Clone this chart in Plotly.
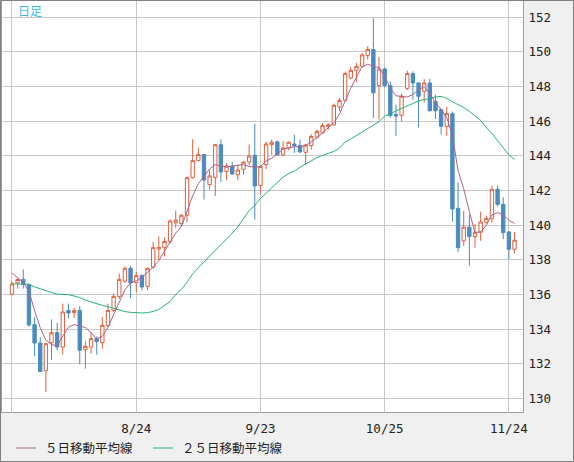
import plotly.graph_objects as go

# ---- data ----
dates = [
    "7/25", "7/26", "7/27", "7/28", "7/29",
    "8/1", "8/2", "8/3", "8/4", "8/5", "8/8", "8/9", "8/10", "8/11", "8/12",
    "8/15", "8/16", "8/17", "8/18", "8/19", "8/22", "8/23", "8/24", "8/25", "8/26",
    "8/29", "8/30", "8/31",
    "9/1", "9/2", "9/5", "9/6", "9/7", "9/8", "9/9", "9/12", "9/13", "9/14", "9/15", "9/16",
    "9/19", "9/20", "9/21", "9/22", "9/23", "9/26", "9/27", "9/28", "9/29", "9/30",
    "10/3", "10/4", "10/5", "10/6", "10/7", "10/10", "10/11", "10/12", "10/13", "10/14",
    "10/17", "10/18", "10/19", "10/20", "10/21", "10/24", "10/25", "10/26", "10/27", "10/28",
    "10/31",
    "11/1", "11/2", "11/3", "11/4", "11/7", "11/8", "11/9", "11/10", "11/11",
    "11/14", "11/15", "11/16", "11/17", "11/18", "11/21", "11/22", "11/23", "11/24", "11/25",
]

opens = [
    136.03, 136.67, 136.88, 136.58, 134.27, 133.21, 131.61, 133.23, 133.81, 132.98,
    135.09, 134.96, 135.09, 132.83, 132.98, 133.46, 133.23, 134.21, 135.09, 135.90,
    136.78, 137.52, 136.70, 137.11, 136.48, 137.59, 138.64, 138.71, 139.07, 140.15,
    140.10, 140.58, 142.75, 143.73, 144.08, 142.35, 142.75, 144.65, 143.11, 143.42,
    142.92, 143.23, 143.65, 144.04, 142.30, 143.50, 144.65, 144.82, 144.07, 144.46,
    144.69, 144.60, 144.21, 144.60, 145.10, 145.33, 145.71, 145.79, 146.83, 147.21,
    148.50, 148.94, 149.17, 149.79, 150.14, 148.06, 149.02, 148.06, 146.40, 146.35,
    147.90, 148.75, 148.21, 147.73, 148.21, 147.15, 146.67, 145.71, 146.44, 140.98,
    139.10, 139.89, 139.35, 139.60, 140.17, 140.40, 142.08, 141.21, 139.62, 138.62,
]
highs = [
    136.77, 136.92, 137.46, 136.65, 134.71, 133.55, 133.20, 134.57, 134.38, 135.48,
    135.48, 135.23, 135.34, 133.31, 133.84, 133.59, 134.71, 135.48, 136.06, 137.21,
    137.63, 137.67, 137.30, 137.17, 137.55, 139.04, 139.36, 139.30, 140.35, 140.85,
    140.65, 142.80, 144.96, 144.48, 144.10, 143.17, 144.70, 144.96, 143.60, 143.65,
    143.50, 143.70, 144.67, 145.87, 143.45, 144.84, 144.94, 144.88, 144.84, 144.84,
    145.23, 144.94, 144.70, 145.25, 145.52, 145.90, 145.90, 147.02, 147.35, 148.87,
    149.13, 149.37, 149.94, 150.33, 151.94, 149.71, 149.10, 148.30, 146.96, 147.60,
    148.92, 148.88, 148.25, 148.44, 148.46, 147.53, 146.70, 146.83, 146.57, 142.48,
    140.83, 140.60, 140.06, 140.79, 140.56, 142.29, 142.29, 141.62, 139.65, 139.62,
]
lows = [
    135.96, 136.35, 136.35, 134.15, 132.46, 131.53, 130.38, 132.23, 132.79, 132.54,
    134.62, 134.65, 131.98, 131.73, 132.60, 132.54, 132.88, 134.13, 135.00, 135.73,
    136.67, 135.80, 136.15, 136.25, 136.25, 137.50, 138.00, 138.20, 138.94, 139.83,
    139.95, 140.19, 142.70, 143.70, 141.48, 142.08, 141.69, 142.50, 142.60, 142.90,
    142.60, 142.92, 143.46, 140.33, 141.81, 143.25, 144.07, 144.00, 143.98, 144.32,
    144.17, 144.17, 143.51, 144.36, 145.00, 145.30, 145.50, 145.75, 146.58, 147.15,
    148.45, 148.25, 149.10, 149.56, 146.20, 146.10, 147.95, 146.20, 145.16, 146.00,
    147.80, 147.25, 145.65, 147.09, 146.57, 146.13, 145.23, 145.17, 140.21, 138.48,
    138.80, 137.67, 138.71, 139.10, 140.10, 140.15, 141.08, 139.20, 138.04, 138.37,
]
closes = [
    136.61, 136.87, 136.58, 134.25, 133.21, 131.57, 133.17, 133.81, 132.98, 135.00,
    134.94, 135.08, 132.79, 133.02, 133.46, 133.29, 134.23, 135.09, 135.90, 136.88,
    137.52, 136.67, 137.10, 136.44, 137.52, 138.71, 138.72, 139.07, 140.25, 140.30,
    140.58, 142.75, 143.73, 144.08, 142.61, 142.85, 144.65, 143.07, 143.42, 142.96,
    143.19, 143.65, 144.00, 142.27, 143.40, 144.69, 144.79, 144.07, 144.46, 144.79,
    144.60, 144.23, 144.63, 145.13, 145.42, 145.75, 145.79, 146.92, 147.21, 148.75,
    148.94, 149.17, 149.83, 150.14, 147.64, 149.02, 148.06, 146.33, 146.30, 147.45,
    148.75, 148.21, 147.44, 148.21, 146.61, 146.61, 145.71, 146.44, 140.94, 138.71,
    139.89, 139.35, 139.60, 140.19, 140.40, 142.08, 141.21, 139.58, 138.62, 139.14,
]
ma5 = [
    137.25, 137.00, 136.70, 136.20, 135.07, 134.10, 133.38, 133.13, 133.03, 133.62,
    134.12, 134.28, 134.18, 134.10, 133.80, 133.45, 133.60, 134.10, 134.85, 135.55,
    136.28, 136.68, 136.80, 137.00, 137.27, 137.60, 137.95, 138.50, 139.05, 139.55,
    139.92, 140.85, 141.70, 142.40, 142.80, 143.25, 143.50, 143.42, 143.36, 143.42,
    143.46, 143.50, 143.40, 143.36, 143.38, 143.72, 143.86, 144.15, 144.40, 144.46,
    144.54, 144.53, 144.60, 144.82, 145.03, 145.33, 145.61, 145.92, 146.42, 147.20,
    147.90, 148.55, 149.15, 149.30, 149.17, 149.10, 148.62, 147.90, 147.47, 147.44,
    147.40, 147.55, 147.83, 148.00, 147.60, 147.05, 146.70, 146.20, 145.20, 143.15,
    142.10, 140.80, 139.58, 139.63, 140.00, 140.60, 140.73, 140.60, 140.30, 140.10,
]
ma25 = [
    136.63, 136.62, 136.61, 136.59, 136.45, 136.33, 136.22, 136.12, 136.03, 136.00,
    136.00, 135.92, 135.83, 135.68, 135.58, 135.46, 135.38, 135.31, 135.20, 135.10,
    135.02, 134.98, 134.94, 134.94, 134.96, 135.03, 135.15, 135.35, 135.60, 136.02,
    136.30, 136.72, 137.20, 137.55, 137.88, 138.20, 138.50, 138.85, 139.20, 139.55,
    139.92, 140.38, 140.85, 141.15, 141.55, 141.85, 142.15, 142.48, 142.78, 142.98,
    143.12, 143.35, 143.55, 143.73, 143.90, 144.03, 144.15, 144.26, 144.46, 144.80,
    144.98, 145.18, 145.38, 145.56, 145.75, 145.98, 146.30, 146.42, 146.60, 146.73,
    146.86, 147.03, 147.17, 147.26, 147.30, 147.40, 147.44, 147.32, 147.13, 146.96,
    146.80, 146.57, 146.33, 146.06, 145.64, 145.30, 144.88, 144.50, 144.07, 143.80,
]

grid_dates = ["7/25", "8/24", "9/23", "10/25", "11/24"]
grid_text = ["", "8/24", "9/23", "10/25", "11/24"]
ma5_name = "５日移動平均線"
ma25_name = "２５日移動平均線"
title_text = "日足"

# ---- styles ----
UP = "#e0603c"
DOWN = "#4a8bc2"
C_MA5 = "#b0608c"
C_MA25 = "#25b475"
GRID = "#c8c8c8"

W, H = 574, 462
ML, MR, MT, MB = 2, 51, 1, 50
PW, PH = W - ML - MR, H - MT - MB


def px(xp):
    return (xp - ML) / PW


def py(yp):
    return (H - MB - yp) / PH


fig = go.Figure()
fig.add_trace(go.Candlestick(
    x=dates, open=opens, high=highs, low=lows, close=closes,
    increasing=dict(line=dict(color=UP, width=1), fillcolor="#ffffff"),
    decreasing=dict(line=dict(color=DOWN, width=1), fillcolor=DOWN),
    showlegend=False, hoverinfo="skip",
))
fig.add_trace(go.Scatter(x=dates, y=ma25, mode="lines", line=dict(color=C_MA25, width=1),
                         showlegend=False, hoverinfo="skip"))
fig.add_trace(go.Scatter(x=dates, y=ma5, mode="lines", line=dict(color=C_MA5, width=1),
                         showlegend=False, hoverinfo="skip"))

tick_font = dict(family="DejaVu Sans Mono", size=12.5, color="#222222")

fig.update_layout(
    width=W, height=H,
    margin=dict(l=ML, r=MR, t=MT, b=MB, pad=0, autoexpand=False),
    paper_bgcolor="#f0f0f0", plot_bgcolor="#ffffff",
    boxgap=0.15,
    xaxis=dict(
        type="category", categoryorder="array", categoryarray=dates,
        range=[-1.77, 90.5], rangeslider=dict(visible=False),
        tickmode="array", tickvals=grid_dates, ticktext=grid_text,
        showgrid=True, gridcolor=GRID, gridwidth=1,
        showline=True, mirror=True, linecolor="#a0a0a0", linewidth=1,
        ticks="", tickfont=tick_font, ticklabelstandoff=5, zeroline=False,
        automargin=False,
    ),
    yaxis=dict(
        side="right", range=[129.23, 152.94],
        tickmode="linear", tick0=130, dtick=2,
        showgrid=True, gridcolor=GRID, gridwidth=1,
        showline=True, mirror=True, linecolor="#a0a0a0", linewidth=1,
        ticks="", tickfont=tick_font, ticklabelstandoff=2, zeroline=False,
        automargin=False,
    ),
    showlegend=False,
)

# outer frame
fig.add_shape(type="rect", xref="paper", yref="paper",
              x0=px(0.5), x1=px(W - 0.5), y0=py(H - 0.5), y1=py(0.5),
              line=dict(color="#808080", width=1), fillcolor="rgba(0,0,0,0)", layer="above")

# custom legend
leg_y = 448
fig.add_shape(type="line", xref="paper", yref="paper",
              x0=px(16), x1=px(36), y0=py(leg_y), y1=py(leg_y),
              line=dict(color=C_MA5, width=1))
fig.add_shape(type="line", xref="paper", yref="paper",
              x0=px(153), x1=px(173), y0=py(leg_y), y1=py(leg_y),
              line=dict(color=C_MA25, width=1))
leg_font = dict(family="Noto Sans CJK JP", size=12.5, color="#222222")
fig.add_annotation(xref="paper", yref="paper", x=px(43), y=py(leg_y), text=ma5_name,
                   showarrow=False, xanchor="left", yanchor="middle", font=leg_font)
fig.add_annotation(xref="paper", yref="paper", x=px(180), y=py(leg_y), text=ma25_name,
                   showarrow=False, xanchor="left", yanchor="middle", font=leg_font)

# period label
fig.add_annotation(xref="paper", yref="paper", x=px(16), y=py(10.5), text=title_text,
                   showarrow=False, xanchor="left", yanchor="middle",
                   font=dict(family="Noto Sans CJK JP", size=12, color="#3cb8ea"))

fig.write_html(
    "out.html",
    config={"displayModeBar": False},
    post_script="document.body.style.margin='0';document.body.style.padding='0';"
                "document.documentElement.style.overflow='hidden';",
)
